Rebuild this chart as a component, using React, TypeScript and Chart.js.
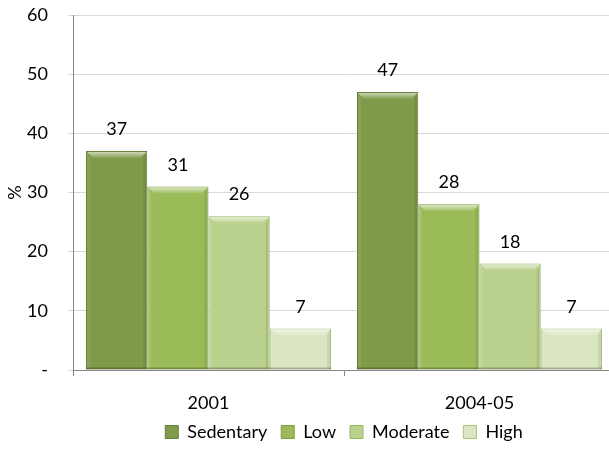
import React, { useEffect, useRef } from "react";
import { Chart, registerables } from "chart.js";
Chart.register(...registerables);

const categories = ["2001", "2004-05"];
const seriesNames = ["Sedentary", "Low", "Moderate", "High"];
const sedentary = [37, 47];
const low = [31, 28];
const moderate = [26, 18];
const high = [7, 7];
const yMax = 60;
const yStep = 10;

const fills = ["#7f9a48", "#9bbb59", "#b9d18c", "#d9e6c1"];
const edges = ["#67803a", "#7f9c45", "#98b566", "#a7c27a"];
const FONT = "Lato, 'Open Sans', sans-serif";
const FS = 18;

const bevelPlugin = {
  id: "bevel",
  afterDatasetsDraw(chart: any) {
    const ctx = chart.ctx;
    chart.data.datasets.forEach((ds: any, i: number) => {
      const meta = chart.getDatasetMeta(i);
      meta.data.forEach((bar: any) => {
        const { x, y, base, width } = bar.getProps(["x", "y", "base", "width"], true);
        const l = x - width / 2 + 1;
        const r = x + width / 2 - 1;
        const t = y + 1;
        const b = base - 1;
        const bv = Math.min(6, (b - t) / 3);
        ctx.save();
        const g = ctx.createLinearGradient(0, t, 0, t + bv);
        g.addColorStop(0, "rgba(255,255,255,0.6)");
        g.addColorStop(1, "rgba(255,255,255,0.05)");
        ctx.beginPath();
        ctx.moveTo(l, t);
        ctx.lineTo(r, t);
        ctx.lineTo(r - bv, t + bv);
        ctx.lineTo(l + bv, t + bv);
        ctx.closePath();
        ctx.fillStyle = g;
        ctx.fill();
        ctx.beginPath();
        ctx.moveTo(l, t);
        ctx.lineTo(l + 3, t + bv);
        ctx.lineTo(l + 3, b);
        ctx.lineTo(l, b);
        ctx.closePath();
        ctx.fillStyle = "rgba(255,255,255,0.08)";
        ctx.fill();
        ctx.beginPath();
        ctx.moveTo(r, t);
        ctx.lineTo(r - 3, t + bv);
        ctx.lineTo(r - 3, b);
        ctx.lineTo(r, b);
        ctx.closePath();
        ctx.fillStyle = "rgba(0,0,0,0.08)";
        ctx.fill();
        ctx.fillStyle = "rgba(0,0,0,0.25)";
        ctx.fillRect(l - 1, base - 2, r - l + 2, 2);
        ctx.restore();
      });
    });
  },
};

const labelPlugin = {
  id: "valueLabels",
  afterDatasetsDraw(chart: any) {
    const ctx = chart.ctx;
    ctx.save();
    ctx.font = `${FS}px ${FONT}`;
    ctx.fillStyle = "#000";
    ctx.textAlign = "center";
    ctx.textBaseline = "alphabetic";
    chart.data.datasets.forEach((ds: any, i: number) => {
      const meta = chart.getDatasetMeta(i);
      meta.data.forEach((bar: any, j: number) => {
        ctx.fillText(String(ds.data[j]), bar.x, bar.y - 16);
      });
    });
    ctx.restore();
  },
};

export default function App() {
  const ref = useRef<HTMLCanvasElement>(null);
  useEffect(() => {
    const series = [sedentary, low, moderate, high];
    const chart = new Chart(ref.current!, {
      type: "bar",
      data: {
        labels: categories,
        datasets: series.map((d, i) => ({
          label: seriesNames[i],
          data: d,
          backgroundColor: fills[i],
          borderColor: edges[i],
          borderWidth: 1,
          categoryPercentage: 0.904,
          barPercentage: 1,
        })),
      },
      options: {
        animation: false,
        responsive: false,
        maintainAspectRatio: false,
        layout: { padding: { top: 15, right: 0, left: 0, bottom: 0 } },
        plugins: {
          legend: {
            position: "bottom",
            fullSize: false,
            labels: {
              font: { family: FONT, size: FS },
              color: "#000",
              boxWidth: 13,
              boxHeight: 13,
              padding: 14,
            },
          },
          tooltip: { enabled: false },
        },
        scales: {
          x: {
            grid: {
              drawOnChartArea: false,
              drawTicks: true,
              tickLength: 6,
              color: "#868686",
            },
            border: { color: "#868686" },
            ticks: {
              font: { family: FONT, size: FS },
              color: "#000",
              padding: 16,
            },
            afterFit: (s: any) => {
              s.height = 39;
            },
          },
          y: {
            min: 0,
            max: yMax,
            ticks: {
              stepSize: yStep,
              font: { family: FONT, size: FS },
              color: "#000",
              padding: 20,
              callback: (v: any) => (v === 0 ? "-" : String(v)),
            },
            grid: { color: "#d9d9d9", tickLength: 5 },
            border: { color: "#868686" },
            title: {
              display: true,
              text: "%",
              font: { family: FONT, size: FS },
              color: "#000",
              padding: { top: 4, bottom: 0 },
            },
            afterFit: (s: any) => {
              s.width = 73;
              s.paddingTop = 0;
              s.paddingBottom = 0;
            },
          },
        },
      },
      plugins: [bevelPlugin, labelPlugin],
    });
    return () => chart.destroy();
  }, []);
  return (
    <div style={{ position: "absolute", left: 0, top: 0, width: 609, height: 451, background: "#fff", overflow: "hidden" }}>
      <canvas ref={ref} width={615} height={451} />
    </div>
  );
}
